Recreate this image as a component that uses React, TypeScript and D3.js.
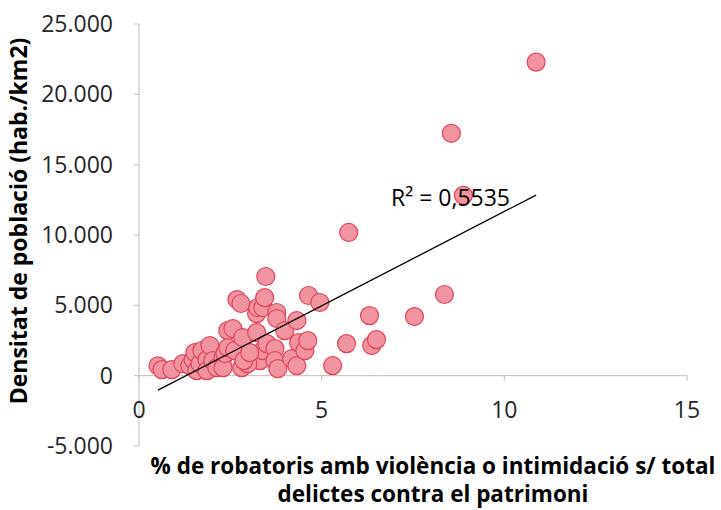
import * as d3 from 'd3'

// % robatoris amb violència (x) i densitat de població (y), llegits del gràfic
const pctRobatoris = [
  0.52, 0.63, 0.9, 1.2, 1.39, 1.48, 1.53, 1.58, 1.67, 1.72, 1.86, 1.86, 1.94, 2.02, 2.13,
  2.3, 2.3, 2.35, 2.43, 2.43, 2.57, 2.62, 2.68, 2.79, 2.81, 2.84, 2.95, 3.22, 3.22, 3.25,
  3.31, 3.39, 3.39, 3.47, 3.44, 3.5, 3.72, 3.72, 3.77, 3.77, 3.8, 3.99, 4.18, 4.32, 4.32,
  4.37, 4.54, 4.62, 4.64, 4.95, 5.3, 5.68, 5.74, 6.31, 6.37, 6.5, 7.54, 8.36, 8.55, 8.88,
  10.87, 2.98, 2.87, 3.03,
]
const densitat = [
  700, 430, 430, 850, 710, 1140, 1640, 360, 850, 1780, 1140, 360, 2140, 1070, 570,
  1280, 570, 1570, 3200, 1990, 3350, 1780, 5410, 5130, 570, 2710, 930, 4410, 3060, 4840,
  1070, 1780, 4840, 7050, 5550, 2280, 1920, 1070, 4490, 4060, 500, 3200, 1210, 3920, 710,
  2350, 1780, 2490, 5700, 5200, 710, 2280, 10180, 4270, 2140, 2560, 4200, 5770, 17230, 12820,
  22290, 850, 1070, 1640,
]

const xTicks = [0, 5, 10, 15]
const yTicks = [-5000, 0, 5000, 10000, 15000, 20000, 25000]

// línia de tendència lineal
const trendSlope = 1340
const trendIntercept = -1730
const r2Label = 'R² = 0,5535'

const yTitle = 'Densitat de població (hab./km2)'
const xTitle = ['% de robatoris amb violència o intimidació s/ total', 'delictes contra el patrimoni']

const fmt = d3.formatLocale({ decimal: ',', thousands: '.', grouping: [3], currency: ['', '€'], minus: '-' }).format(',d')

export default function App() {
  const width = 721
  const height = 510
  const plot = { left: 139, right: 687, top: 24, bottom: 446 }
  const font = '"Open Sans", "Noto Sans", sans-serif'

  const x = d3.scaleLinear().domain([0, 15]).range([plot.left, plot.right])
  const y = d3.scaleLinear().domain([-5000, 25000]).range([plot.bottom, plot.top])

  const xMin = d3.min(pctRobatoris) ?? 0
  const xMax = d3.max(pctRobatoris) ?? 0
  const trend = d3.line<number>()
    .x(d => x(d))
    .y(d => y(trendIntercept + trendSlope * d))
  const points = pctRobatoris.map((v, i) => ({ x: v, y: densitat[i] }))

  const axisColor = '#bfbfbf'

  return (
    <svg width={width} height={height} style={{ position: 'absolute', left: 0, top: 0, background: '#fff' }} fontFamily={font}>
      {/* eix Y */}
      <line x1={plot.left} x2={plot.left} y1={plot.top} y2={plot.bottom} stroke={axisColor} />
      {yTicks.map(t => (
        <g key={t}>
          <line x1={plot.left - 5} x2={plot.left} y1={y(t)} y2={y(t)} stroke={axisColor} />
          <text x={plot.left - 26} y={y(t)} dy="0.35em" textAnchor="end" fontSize={23} fill="#262626">{fmt(t)}</text>
        </g>
      ))}
      {/* eix X creuant a 0 */}
      <line x1={plot.left} x2={plot.right} y1={y(0)} y2={y(0)} stroke={axisColor} />
      {xTicks.map(t => (
        <g key={t}>
          <line x1={x(t)} x2={x(t)} y1={y(0)} y2={y(0) + 5} stroke={axisColor} />
          <text x={x(t)} y={410} dy="0.35em" textAnchor="middle" fontSize={23} fill="#262626">{t}</text>
        </g>
      ))}

      {points.map((d, i) => (
        <circle key={i} cx={x(d.x)} cy={y(d.y)} r={9} fill="#f0959f" stroke="#e0445c" strokeWidth={1.2} />
      ))}

      <path d={trend([xMin, xMax]) ?? ''} fill="none" stroke="#000" strokeWidth={1.3} />
      <text x={391} y={198} dy="0.35em" fontSize={23} fill="#000">{r2Label}</text>

      <text transform={`translate(19,221) rotate(-90)`} textAnchor="middle" dy="0.35em" fontSize={23} fontWeight="bold" fill="#000">{yTitle}</text>
      {xTitle.map((line, i) => (
        <text key={i} x={433} y={466 + i * 28} dy="0.35em" textAnchor="middle" fontSize={22.5} fontWeight="bold" fill="#000">{line}</text>
      ))}
    </svg>
  )
}
